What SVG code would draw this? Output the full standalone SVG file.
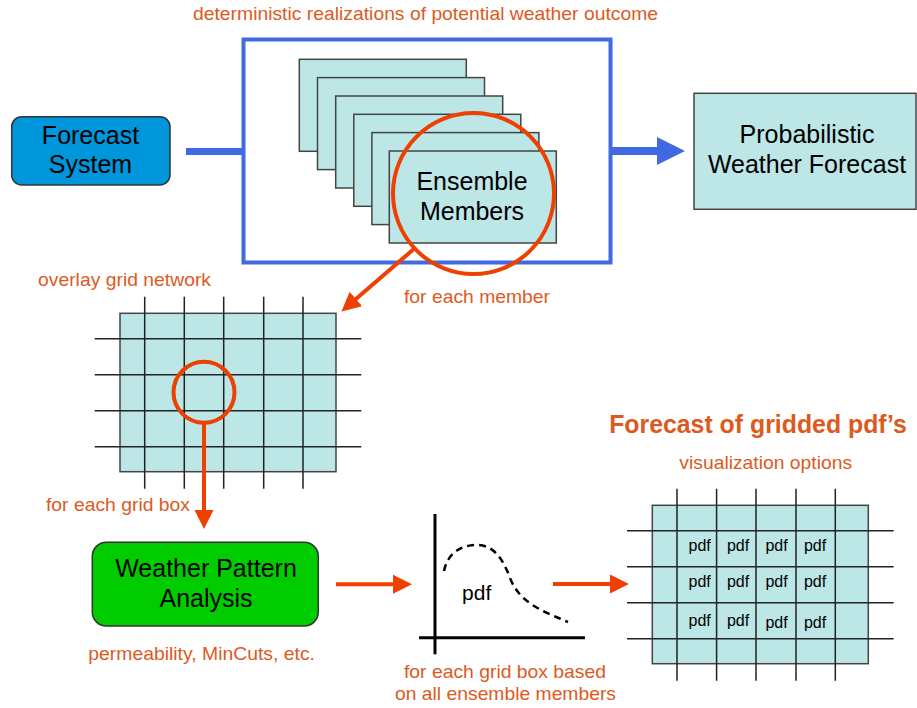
<svg xmlns="http://www.w3.org/2000/svg" width="917" height="708" viewBox="0 0 917 708">
<style>
text{font-family:"Liberation Sans",Arial,sans-serif}
.big{font-size:25px;fill:#000;text-anchor:middle}
.cap{font-size:19px;fill:#dd5a1e}
.cyan{fill:#bde6e6;stroke:#444;stroke-width:1.5}
.gl{stroke:#222;stroke-width:1.5}
.red{stroke:#ee4000;fill:none;stroke-width:4}
.cell{font-size:16px;fill:#000;text-anchor:middle}
</style>
<defs>
<marker id="rh" markerUnits="userSpaceOnUse" markerWidth="21" markerHeight="21" refX="6" refY="10.5" orient="auto">
<path d="M0,1 L19,10.5 L0,20 z" fill="#ee4000"/>
</marker>
<marker id="bh" markerUnits="userSpaceOnUse" markerWidth="30" markerHeight="30" refX="4" refY="15" orient="auto">
<path d="M0,1 L28,15 L0,29 z" fill="#4169e1"/>
</marker>
<g id="gridShape">
<rect class="cyan" x="120" y="313.3" width="216" height="158.4"/>
<path class="gl" d="M144.7,296.7V488.7M184.3,296.7V488.7M223.7,296.7V488.7M263.7,296.7V488.7M303,296.7V488.7M94.7,338.7H361.3M94.7,374.7H361.3M94.7,410.7H361.3M94.7,446.7H361.3"/>
</g>
</defs>

<text class="cap" x="425.5" y="20" text-anchor="middle" textLength="465" lengthAdjust="spacingAndGlyphs">deterministic realizations of potential weather outcome</text>

<g id="forecast-system">
<rect x="11.7" y="116.7" width="158.3" height="68.3" rx="10" fill="#0096db" stroke="#333" stroke-width="1.5"/>
<text class="big" x="90.5" y="144">Forecast</text>
<text class="big" x="90.5" y="173">System</text>
</g>

<g id="ensemble-box">
<rect x="243.5" y="39.5" width="367" height="223" fill="#fff" stroke="#4169e1" stroke-width="4"/>
<rect class="cyan" x="299.3" y="59.3" width="167" height="92"/>
<rect class="cyan" x="317.5" y="77.6" width="167" height="92"/>
<rect class="cyan" x="335.7" y="96" width="167" height="92"/>
<rect class="cyan" x="353.8" y="114.3" width="167" height="92"/>
<rect class="cyan" x="371.9" y="132.6" width="167" height="92"/>
<rect class="cyan" x="389.3" y="151" width="167" height="92"/>
<text class="big" x="472" y="190">Ensemble</text>
<text class="big" x="472" y="220">Members</text>
<circle class="red" cx="473.5" cy="193.5" r="80.5"/>
</g>

<g id="probabilistic-forecast">
<rect class="cyan" x="694" y="93.3" width="222" height="116"/>
<text class="big" x="807" y="143">Probabilistic</text>
<text class="big" x="807" y="173">Weather Forecast</text>
</g>

<g id="overlay-grid">
<text class="cap" x="38" y="286" textLength="173" lengthAdjust="spacingAndGlyphs">overlay grid network</text>
<use href="#gridShape"/>
<circle class="red" cx="204" cy="392.3" r="30.5"/>
</g>

<text class="cap" x="404" y="303" textLength="146" lengthAdjust="spacingAndGlyphs">for each member</text>
<text class="cap" x="46" y="511" textLength="144" lengthAdjust="spacingAndGlyphs">for each grid box</text>

<g id="weather-pattern-analysis">
<rect x="92.3" y="542.3" width="226" height="83.7" rx="14" fill="#00cc00" stroke="#333" stroke-width="1.5"/>
<text class="big" x="206" y="576.7">Weather Pattern</text>
<text class="big" x="206" y="606.7">Analysis</text>
<text class="cap" x="88.3" y="660" textLength="226.7" lengthAdjust="spacingAndGlyphs">permeability, MinCuts, etc.</text>
</g>

<g id="pdf-chart">
<line x1="435" y1="514" x2="435" y2="654.3" stroke="#000" stroke-width="3"/>
<line x1="419" y1="637.7" x2="585" y2="637.7" stroke="#000" stroke-width="3"/>
<path d="M444,571 C448,552 462,545 477,545 C492,545 502,556 510,578 C520,604 545,612 568,622" fill="none" stroke="#000" stroke-width="2.5" stroke-dasharray="7,5"/>
<text x="476.7" y="600" font-size="21" text-anchor="middle">pdf</text>
<text class="cap" x="505" y="678" text-anchor="middle" textLength="202" lengthAdjust="spacingAndGlyphs">for each grid box based</text>
<text class="cap" x="505.5" y="700" text-anchor="middle" textLength="221" lengthAdjust="spacingAndGlyphs">on all ensemble members</text>
</g>

<g id="gridded-pdfs">
<text x="758" y="433" font-size="25" font-weight="bold" fill="#dd5a1e" text-anchor="middle" textLength="297.7" lengthAdjust="spacingAndGlyphs">Forecast of gridded pdf’s</text>
<text class="cap" x="765.7" y="469" text-anchor="middle" textLength="172.7" lengthAdjust="spacingAndGlyphs">visualization options</text>
<use href="#gridShape" transform="translate(532.3,192)"/>
<text class="cell" x="699.7" y="550.7">pdf</text>
<text class="cell" x="738" y="550.7">pdf</text>
<text class="cell" x="776.5" y="550.7">pdf</text>
<text class="cell" x="815" y="550.7">pdf</text>
<text class="cell" x="699.7" y="586.7">pdf</text>
<text class="cell" x="738" y="586.7">pdf</text>
<text class="cell" x="776.5" y="586.7">pdf</text>
<text class="cell" x="815" y="586.7">pdf</text>
<text class="cell" x="699.7" y="625.7">pdf</text>
<text class="cell" x="738" y="625.7">pdf</text>
<text class="cell" x="776.5" y="628.3">pdf</text>
<text class="cell" x="815" y="628.3">pdf</text>
</g>

<g id="connectors">
<line x1="186" y1="151.5" x2="243" y2="151.5" stroke="#4169e1" stroke-width="7"/>
<line x1="612" y1="151" x2="661" y2="151" stroke="#4169e1" stroke-width="8" marker-end="url(#bh)"/>
<line class="red" x1="415" y1="248" x2="351.3" y2="302.9" marker-end="url(#rh)"/>
<line class="red" x1="204" y1="423" x2="204" y2="516" marker-end="url(#rh)"/>
<line class="red" x1="336" y1="584.3" x2="399" y2="584.3" marker-end="url(#rh)"/>
<line class="red" x1="553" y1="584" x2="616" y2="584" marker-end="url(#rh)"/>
</g>
</svg>
